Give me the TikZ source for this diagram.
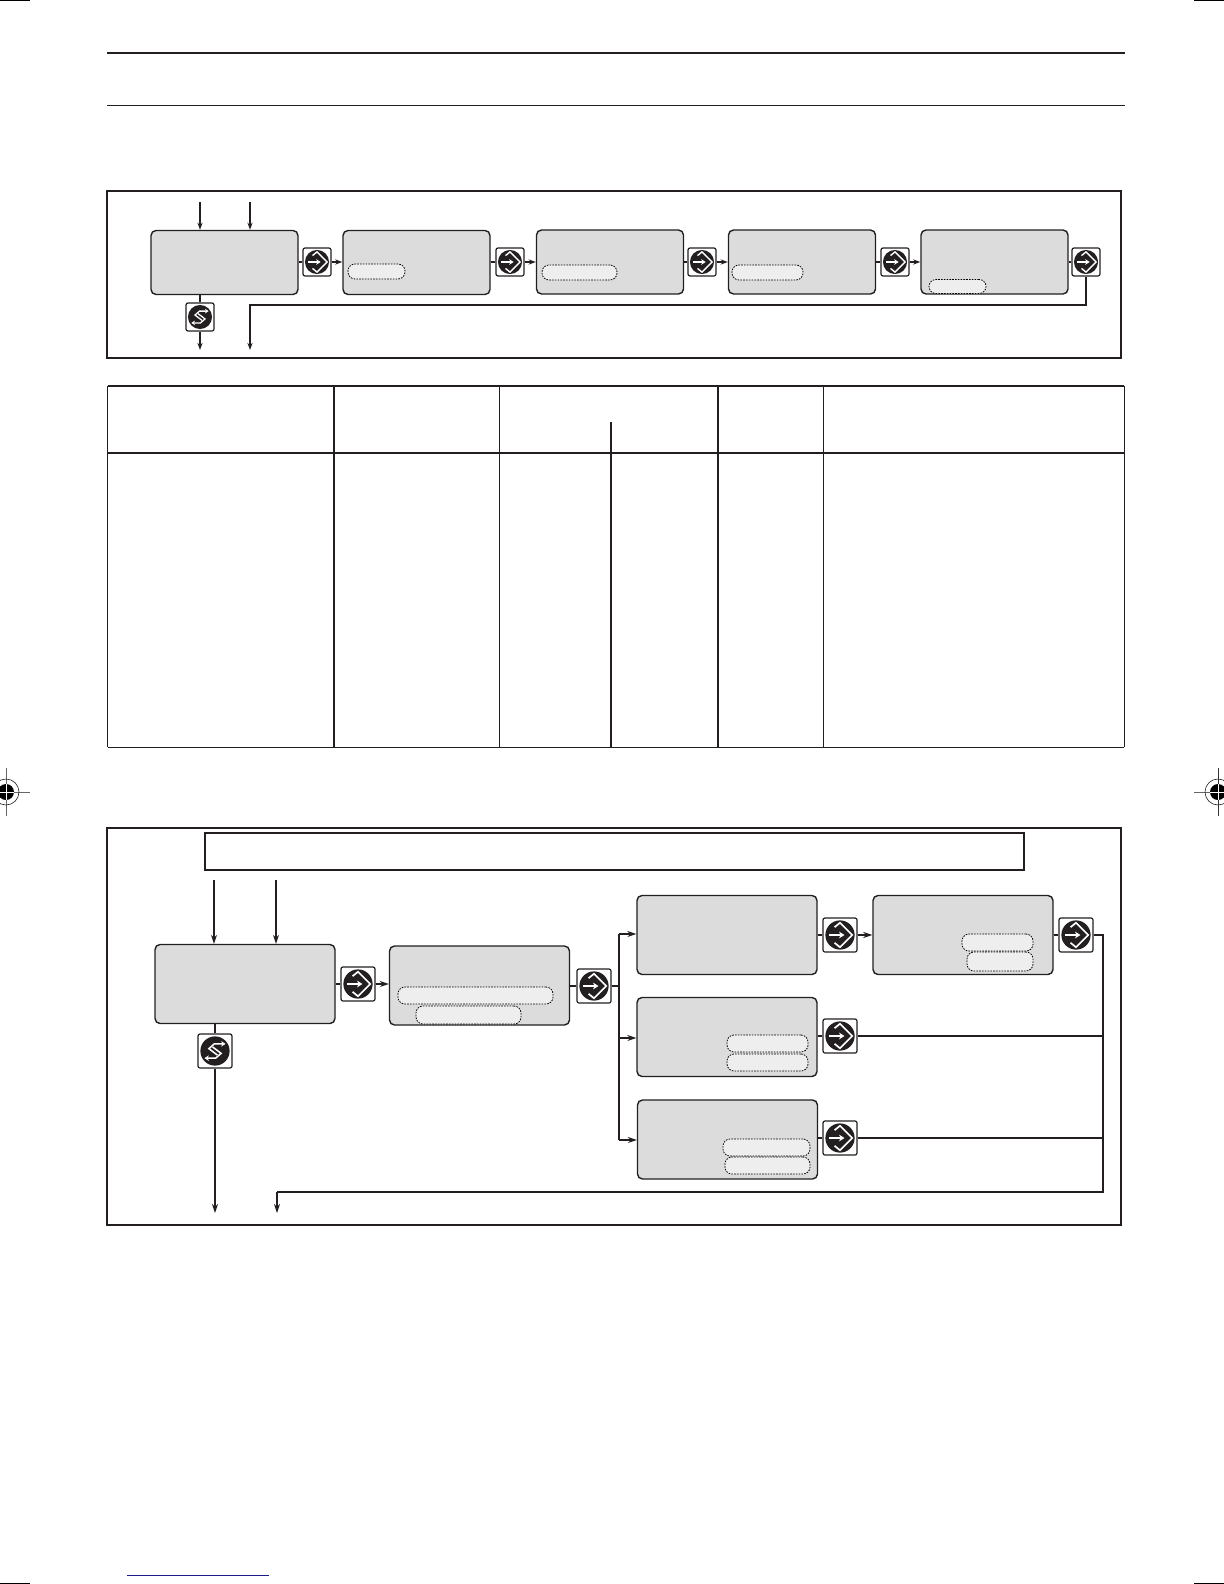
\documentclass[tikz,border=0pt]{standalone}
\usepackage{xcolor}
\usetikzlibrary{arrows.meta}
\definecolor{panelgray}{HTML}{DCDCDC}
\definecolor{ovalgray}{HTML}{EEEEEE}
\definecolor{inkblack}{HTML}{231F20}
\definecolor{rulenavy}{HTML}{1C1C86}
\tikzset{
    panelsm/.style={draw=inkblack, fill=panelgray, line width=.7pt, rounded corners=2.5pt, minimum width=73.5pt, minimum height=32pt, inner sep=0pt},
    panelbg/.style={draw=inkblack, fill=panelgray, line width=.7pt, rounded corners=2.5pt, minimum width=90pt, minimum height=39.5pt, inner sep=0pt},
    oval/.style={draw=black, dash pattern=on .8pt off .6pt, fill=ovalgray, line width=.4pt, rounded corners=3.5pt, inner sep=0pt},
    enterbtn/.style={draw=inkblack, fill=white, line width=.6pt, rounded corners=1pt, minimum size=#1, inner sep=0pt, path picture={
        \begin{scope}[shift={(path picture bounding box.center)}, x=#1/2, y=#1/2, sharp corners]
            \fill[inkblack] (0,0) circle (.86);
            \draw[white, line width=#1*.05] (-.32,.46) -- (0,.72) -- (.72,0) -- (0,-.72) -- (-.32,-.46);
            \draw[white, line width=#1*.05, -{Stealth[length=#1*.16,width=#1*.2]}] (-.62,0) -- (.26,0);
        \end{scope}}},
    escbtn/.style={draw=inkblack, fill=white, line width=.6pt, rounded corners=1pt, minimum size=#1, inner sep=0pt, path picture={
        \begin{scope}[shift={(path picture bounding box.center)}, x=#1/2, y=#1/2, sharp corners]
            \fill[inkblack] (0,0) circle (.86);
            \draw[white, line width=#1*.045, -{Stealth[length=#1*.13,width=#1*.16]}] (.14,-.24) -- (-.36,.14) -- (-.04,.42) -- (.62,.42);
            \draw[white, line width=#1*.045, -{Stealth[length=#1*.13,width=#1*.16]}] (-.14,.24) -- (.36,-.14) -- (.04,-.42) -- (-.62,-.42);
        \end{scope}}},
    flow/.style={draw=inkblack, line width=.6pt, -{Stealth[length=3.6pt,width=2.6pt]}},
    bigflow/.style={draw=inkblack, line width=.6pt, -{Stealth[length=4.5pt,width=3pt]}},
    stub/.style={draw=inkblack, line width=.6pt},
    framebox/.style={draw=inkblack, line width=1.1pt},
    trim/.style={draw=black, line width=.5pt},
}

\begin{document}
\begin{tikzpicture}[x=.5pt, y=-.5pt]
    \useasboundingbox (0,0) rectangle (1224,1584);

    % Page furniture
    \draw[trim] (0,1) -- (30,1);
    \draw[trim] (1194,1) -- (1224,1);
    \draw[trim] (0,1583) -- (30,1583);
    \draw[trim] (1194,1583) -- (1224,1583);
    \draw[inkblack, line width=1pt] (107,53) -- (1125,53);
    \draw[inkblack, line width=.5pt] (107,105.5) -- (1125,105.5);
    \draw[rulenavy, line width=.5pt] (127,1575) -- (269,1575);

    % Registration marks
    \draw[black!60, line width=.5pt] (6,768) -- (6,816);
    \draw[black!60, line width=.5pt] (0,792) -- (30,792);
    \draw[inkblack, line width=.3pt] (6,792) circle (13);
    \fill[black] (6,792) circle (8);
    \draw[white, line width=.25pt] (0,792) -- (14,792);
    \draw[white, line width=.25pt] (6,784) -- (6,800);
    \draw[black!80, line width=.4pt] (1218,768) -- (1218,816);
    \draw[black!60, line width=.5pt] (1194,792) -- (1224,792);
    \draw[inkblack, line width=.3pt] (1218,792) circle (13);
    \fill[black] (1218,792) circle (8);
    \draw[white, line width=.25pt] (1210,792) -- (1224,792);
    \draw[white, line width=.25pt] (1218,784) -- (1218,800);

    % Frames
    \draw[framebox] (107,191) rectangle (1121,358);
    \draw[framebox] (107,828) rectangle (1121,1225);
    \draw[inkblack, line width=1.2pt] (205,833) rectangle (1024,870);

    % Table
    \draw[inkblack, line width=.6pt] (107.5,386) -- (1124,386);
    \draw[inkblack, line width=1pt] (107.5,453) -- (1124,453);
    \draw[inkblack, line width=.5pt] (107.5,747) -- (1124,747);
    \draw[inkblack, line width=.5pt] (107.5,386) -- (107.5,747);
    \draw[inkblack, line width=.9pt] (334,386) -- (334,747);
    \draw[inkblack, line width=.5pt] (499.5,386) -- (499.5,747);
    \draw[inkblack, line width=.9pt] (611,422) -- (611,747);
    \draw[inkblack, line width=.9pt] (718,386) -- (718,747);
    \draw[inkblack, line width=.5pt] (823.5,386) -- (823.5,747);
    \draw[inkblack, line width=.5pt] (1124,386) -- (1124,747);

    % Top row nodes
    \node (p1) [panelsm] at (224.5,262.5) {};
    \node (p2) [panelsm] at (416.5,262.5) {};
    \node (p3) [panelsm] at (610,262) {};
    \node (p4) [panelsm] at (802,262) {};
    \node (p5) [panelsm] at (994.5,262) {};
    \node (e1) [enterbtn=14pt] at (317,262) {};
    \node (e2) [enterbtn=14pt] at (510,262) {};
    \node (e3) [enterbtn=14pt] at (702,262) {};
    \node (e4) [enterbtn=14pt] at (895,262) {};
    \node (e5) [enterbtn=14pt] at (1086,262) {};
    \node (s1) [escbtn=14pt] at (200,317) {};

    % Top row readouts
    \node (o2) [oval, minimum width=28.5pt, minimum height=7.5pt] at (376.5,271.5) {};
    \node (o3) [oval, minimum width=37.5pt, minimum height=7.5pt] at (579.5,272.5) {};
    \node (o4) [oval, minimum width=35.5pt, minimum height=7.5pt] at (767.5,272.5) {};
    \node (o5) [oval, minimum width=28.5pt, minimum height=7pt] at (957.5,286.5) {};

    % Top row free ends
    \coordinate (a1) at (200,202);
    \coordinate (a2) at (250,202);
    \coordinate (a3) at (200,350);
    \coordinate (a4) at (250,350);
    \coordinate (a5) at (250,305);

    % Top row transitions
    \draw[flow] (a1) -- (p1.north -| a1);
    \draw[flow] (a2) -- (p1.north -| a2);
    \draw[stub] (p1.east |- e1) -- (e1);
    \draw[flow] (e1) -- (p2.west |- e1);
    \draw[stub] (p2.east |- e2) -- (e2);
    \draw[flow] (e2) -- (p3.west |- e2);
    \draw[stub] (p3.east |- e3) -- (e3);
    \draw[flow] (e3) -- (p4.west |- e3);
    \draw[stub] (p4.east |- e4) -- (e4);
    \draw[flow] (e4) -- (p5.west |- e4);
    \draw[stub] (p5.east |- e5) -- (e5);
    \draw[stub] (p1.south -| s1) -- (s1);
    \draw[flow] (s1) -- (a3);
    \draw[flow] (e5) |- (a5) -- (a4);

    % Lower nodes
    \node (r1) [panelbg] at (245,984) {};
    \node (r2) [panelbg] at (479.5,985.5) {};
    \node (r3) [panelbg] at (727,935) {};
    \node (r4) [panelbg] at (963,935) {};
    \node (r5) [panelbg] at (727,1037) {};
    \node (r6) [panelbg] at (727.5,1139.5) {};
    \node (b1) [enterbtn=17pt] at (358,984) {};
    \node (b2) [enterbtn=17pt] at (594,986) {};
    \node (b3) [enterbtn=17pt] at (840,935) {};
    \node (b4) [enterbtn=17pt] at (1076,935) {};
    \node (b5) [enterbtn=17pt] at (840,1036) {};
    \node (b6) [enterbtn=17pt] at (840,1138) {};
    \node (s2) [escbtn=17pt] at (215,1051) {};

    % Lower readouts
    \node (u1) [oval, minimum width=77.5pt, minimum height=8.5pt] at (475.5,995.5) {};
    \node (u2) [oval, minimum width=52.5pt, minimum height=9pt] at (468.5,1015) {};
    \node (u3) [oval, minimum width=35.5pt, minimum height=8.5pt] at (997.5,942.5) {};
    \node (u4) [oval, minimum width=33pt, minimum height=9.5pt] at (1000,961.5) {};
    \node (u5) [oval, minimum width=40.5pt, minimum height=8.5pt] at (767.5,1043.5) {};
    \node (u6) [oval, minimum width=40.5pt, minimum height=8.5pt] at (767.5,1062.5) {};
    \node (u7) [oval, minimum width=43.5pt, minimum height=8.5pt] at (766.5,1147.5) {};
    \node (u8) [oval, minimum width=42.5pt, minimum height=8.5pt] at (767.5,1165.5) {};

    % Lower free ends
    \coordinate (c1) at (214,880);
    \coordinate (c2) at (276,880);
    \coordinate (c3) at (215,1213);
    \coordinate (c4) at (277,1192);
    \coordinate (c5) at (277,1213);
    \coordinate (c6) at (1103,935);
    \coordinate (c7) at (1103,1192);
    \coordinate (t0) at (619,986);
    \coordinate (t1) at (619,934);
    \coordinate (t2) at (619,1038);
    \coordinate (t3) at (619,1140);

    % Lower transitions
    \draw[bigflow] (c1) -- (r1.north -| c1);
    \draw[bigflow] (c2) -- (r1.north -| c2);
    \draw[stub] (r1.east |- b1) -- (b1);
    \draw[bigflow] (b1) -- (r2.west |- b1);
    \draw[stub, line width=.9pt] (r2.east |- b2) -- (b2);
    \draw[stub, line width=.9pt] (b2) -- (t0);
    \draw[stub] (t1) -- (t3);
    \draw[bigflow] (t1) -- (r3.west |- t1);
    \draw[bigflow] (t2) -- (r5.west |- t2);
    \draw[bigflow] (t3) -- (r6.west |- t3);
    \draw[stub, line width=.9pt] (r3.east |- b3) -- (b3);
    \draw[bigflow, line width=.9pt] (b3) -- (r4.west |- b3);
    \draw[stub] (r4.east |- b4) -- (b4);
    \draw[stub] (r5.east |- b5) -- (b5);
    \draw[stub] (r6.east |- b6) -- (b6);
    \draw[stub] (b5) -- (b5 -| c6);
    \draw[stub] (b6) -- (b6 -| c6);
    \draw[stub] (b4) -- (c6) -- (c7) -- (c4);
    \draw[bigflow] (c4) -- (c5);
    \draw[stub, line width=.9pt] (r1.south -| s2) -- (s2);
    \draw[bigflow, line width=.9pt] (s2) -- (c3);
\end{tikzpicture}
\end{document}
